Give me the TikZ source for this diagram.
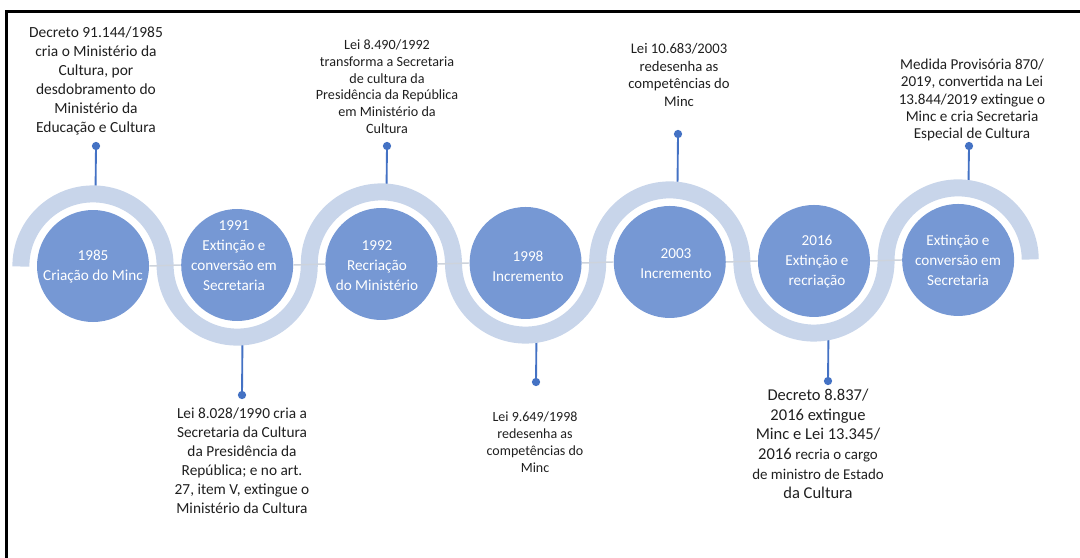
\documentclass[tikz,border=0pt]{standalone}
\usepackage{fontspec}
\setmainfont{Carlito}
\definecolor{bandc}{HTML}{C8D5EA}
\definecolor{discc}{HTML}{7698D4}
\definecolor{pinc}{HTML}{4472C4}
\definecolor{linkc}{HTML}{CDD3DC}
\begin{document}
\begin{tikzpicture}[x=0.75pt,y=-0.75pt,
  ribbon/.style={draw=bandc, line width=12.75pt},
  disc/.style={circle, fill=discc, minimum size=84pt, inner sep=0pt},
  disctext/.style={text=white, align=center, font=\fontsize{11.4}{15}\selectfont, inner sep=0pt},
  pin/.style={circle, fill=pinc, minimum size=6.2pt, inner sep=0pt},
  stem/.style={draw=pinc, line width=1.4pt},
  note/.style={align=center, text=black!88, inner sep=0pt},
  frame/.style={draw=black, line width=1.6pt},
  link/.style={draw=linkc, line width=1.1pt}]
\useasboundingbox (0,0) rectangle (1080,557);
\begin{scope}
  \clip (0,0) rectangle (1080,557);
  \draw[frame] (6.5,11.5) rectangle (1100,580);
\end{scope}

% anchor points on the ribbon
\begin{scope}[rotate around={0.4:(93,266)}]
  \coordinate (b1) at (96,194);
  \coordinate (b2) at (242,338);
  \coordinate (b3) at (387,194);
  \coordinate (b4) at (536,338);
  \coordinate (b5) at (678,194);
  \coordinate (b6) at (828,338);
  \coordinate (b7) at (969,194);
\end{scope}

% pins
\node[pin] (d1) at (96,146) {};
\node[pin] (d2) at (242,395) {};
\node[pin] (d3) at (387,146) {};
\node[pin] (d4) at (536,382) {};
\node[pin] (d5) at (678,134) {};
\node[pin] (d6) at (828,381) {};
\node[pin] (d7) at (969,146) {};
\foreach \i in {1,...,7} {\draw[stem] (d\i.center) -- (b\i);}

% ribbon, link line and discs
\begin{scope}[rotate around={0.4:(93,266)}]
  \draw[ribbon] (20.9,266)
    arc[start angle=180,end angle=0,radius=54.075pt]
    arc[start angle=180,end angle=360,radius=54.075pt]
    arc[start angle=180,end angle=0,radius=54.075pt]
    arc[start angle=180,end angle=360,radius=54.075pt]
    arc[start angle=180,end angle=0,radius=54.075pt]
    arc[start angle=180,end angle=360,radius=54.075pt]
    arc[start angle=180,end angle=0,radius=54.075pt];
  \node[disc] (c1) at (93,266) {};
  \node[disc] (c2) at (237.2,266) {};
  \node[disc] (c3) at (381.4,266) {};
  \node[disc] (c4) at (525.6,266) {};
  \node[disc] (c5) at (669.8,266) {};
  \node[disc] (c6) at (814,266) {};
  \node[disc] (c7) at (958.2,266) {};
  \begin{scope}[on background layer/.style={}]
  \end{scope}
\end{scope}
\draw[link] (c1.east) -- (c2.west);
\draw[link] (c2.east) -- (c3.west);
\draw[link] (c3.east) -- (c4.west);
\draw[link] (c4.east) -- (c5.west);
\draw[link] (c5.east) -- (c6.west);
\draw[link] (c6.east) -- (c7.west);

% disc texts
\node[disctext] (l1) at (93,266.5) {1985\\Criação do Minc};
\node[disctext] (l2) at (234,256) {1991\\Extinção e\\conversão em\\Secretaria};
\node[disctext] (l3) at (377,266) {1992\\Recriação\\do Ministério};
\node[disctext] (l4) at (528,266) {1998\\Incremento};
\node[disctext] (l5) at (676,263.5) {2003\\Incremento};
\node[disctext] (l6) at (817,262) {2016\\Extinção e\\recriação};
\node[disctext] (l7) at (958,260) {Extinção e\\conversão em\\Secretaria};

% notes
\node[note, font=\fontsize{11.6}{14.3}\selectfont] (n1) at (96,81)
  {Decreto 91.144/1985\\cria o Ministério da\\Cultura, por\\desdobramento do\\Ministério da\\Educação e Cultura};
\node[note, font=\fontsize{10.6}{12.5}\selectfont] (n3) at (387,86.5)
  {Lei 8.490/1992\\transforma a Secretaria\\de cultura da\\Presidência da República\\em Ministério da\\Cultura};
\node[note, font=\fontsize{11}{13.3}\selectfont] (n5) at (679,75)
  {Lei 10.683/2003\\redesenha as\\competências do\\Minc};
\node[note, font=\fontsize{11.35}{13.1}\selectfont] (n7) at (972,100)
  {Medida Provisória 870/\\2019, convertida na Lei\\13.844/2019 extingue o\\Minc e cria Secretaria\\Especial de Cultura};
\node[note, font=\fontsize{11.5}{14.25}\selectfont] (n2) at (242,460.5)
  {Lei 8.028/1990 cria a\\Secretaria da Cultura\\da Presidência da\\República; e no art.\\27, item V, extingue o\\Ministério da Cultura};
\node[note, font=\fontsize{10.5}{12.75}\selectfont] (n4) at (535,442.5)
  {Lei 9.649/1998\\redesenha as\\competências do\\Minc};
\node[note, font=\fontsize{12.4}{14.7}\selectfont] (n6) at (818,444)
  {Decreto 8.837/\\2016 extingue\\Minc e Lei 13.345/\\2016 {\fontsize{11.2}{14.7}\selectfont recria o cargo}\\\fontsize{11.2}{14.7}\selectfont de ministro de Estado\\da Cultura};
\end{tikzpicture}
\end{document}
